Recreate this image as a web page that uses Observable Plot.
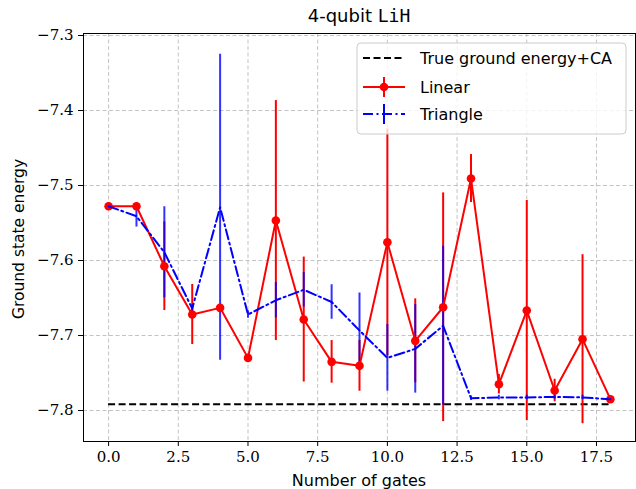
<!DOCTYPE html>
<html><head><meta charset="utf-8">
<script src="https://cdn.jsdelivr.net/npm/d3@7"></script>
<script src="https://cdn.jsdelivr.net/npm/@observablehq/plot@0.6"></script>
<style>body{margin:0;background:#fff}</style>
</head><body><div id="chart"></div>
<script>
const gates = [0,1,2,3,4,5,6,7,8,9,10,11,12,13,14,15,16,17,18];
const linearEnergy = [-7.5276,-7.5276,-7.6076,-7.672,-7.6631,-7.7298,-7.5467,-7.6787,-7.7351,-7.7404,-7.5756,-7.7071,-7.6623,-7.4907,-7.7649,-7.6667,-7.7733,-7.7049,-7.7849];
const linearErr = [0.004,0.004,0.059,0.04,0.004,0.004,0.16,0.0833,0.0284,0.0339,0.151,0.056,0.1525,0.032,0.013,0.1467,0.015,0.1127,0.003];
const triangleEnergy = [-7.5276,-7.541,-7.589,-7.664,-7.529,-7.672,-7.653,-7.639,-7.6553,-7.6933,-7.7298,-7.7178,-7.687,-7.7836,-7.7827,-7.7825,-7.7818,-7.7825,-7.785];
const triangleErr = [0.003,0.0144,0.0607,0.005,0.204,0.005,0.0236,0.023,0.023,0.05,0.0444,0.059,0.106,0.003,0.003,0.003,0.003,0.003,0.003];
const trueEnergy = -7.7916;
const xTicks = [0,2.5,5,7.5,10,12.5,15,17.5];
const yTicks = [-7.3,-7.4,-7.5,-7.6,-7.7,-7.8];
const titleMain = "4-qubit ";
const titleMono = "LiH";
const xLabel = "Number of gates";
const yLabel = "Ground state energy";
const legendLabels = ["True ground energy+CA","Linear","Triangle"];

const linear = gates.map((g,i)=>({g, e: linearEnergy[i], err: linearErr[i]}));
const triangle = gates.map((g,i)=>({g, e: triangleEnergy[i], err: triangleErr[i]}));
const fmt = d => (d < 0 ? "\u2212" : "") + Math.abs(d).toFixed(1);
const gridStyle = {stroke:"#b0b0b0", strokeOpacity:0.75, strokeDasharray:"4,2.5", strokeWidth:1};

const W = 636, H = 489, mL = 83, mR = 1, mT = 33, mB = 48;
const chart = Plot.plot({
  width: W, height: H,
  marginLeft: mL, marginRight: mR, marginTop: mT, marginBottom: mB,
  style: {fontFamily: "DejaVu Serif", fontSize: "15px", color: "black", background: "white"},
  x: {domain: [-0.9, 18.9], ticks: xTicks, tickFormat: fmt, tickSize: 5, tickPadding: 5, label: null},
  y: {domain: [-7.8413, -7.2973], ticks: yTicks, tickFormat: fmt, tickSize: 5, tickPadding: 5, label: null},
  marks: [
    Plot.ruleX(xTicks, gridStyle),
    Plot.ruleY(yTicks, gridStyle),
    Plot.ruleY([trueEnergy], {x1: 0, x2: 18, stroke: "black", strokeWidth: 2, strokeDasharray: "7,3.5"}),
    Plot.ruleX(linear, {x: "g", y1: d => d.e - d.err, y2: d => d.e + d.err, stroke: "#ff0000", strokeWidth: 2}),
    Plot.ruleX(triangle, {x: "g", y1: d => d.e - d.err, y2: d => d.e + d.err, stroke: "#0000ff", strokeOpacity: 0.8, strokeWidth: 2}),
    Plot.line(linear, {x: "g", y: "e", stroke: "#ff0000", strokeWidth: 2}),
    Plot.dot(linear, {x: "g", y: "e", r: 4.3, fill: "#ff0000", stroke: "none"}),
    Plot.line(triangle, {x: "g", y: "e", stroke: "#0000ff", strokeWidth: 2, strokeDasharray: "10,3.5,2,3.5"}),
    Plot.frame({stroke: "black", strokeWidth: 1})
  ]
});
document.getElementById("chart").appendChild(chart);

const svg = d3.select(chart);
const cx = (mL + (W - mR)) / 2;
const t = svg.append("text").attr("x", cx).attr("y", 22).attr("text-anchor", "middle")
  .attr("font-size", 18).attr("fill", "black");
t.append("tspan").attr("font-family", "DejaVu Sans").text(titleMain);
t.append("tspan").attr("font-family", "DejaVu Sans Mono").text(titleMono);

svg.append("text").attr("x", cx).attr("y", 486).attr("text-anchor", "middle")
  .attr("font-family", "DejaVu Sans").attr("font-size", 16).attr("fill", "black").text(xLabel);
svg.append("text").attr("transform", "translate(24,239) rotate(-90)").attr("text-anchor", "middle")
  .attr("font-family", "DejaVu Sans").attr("font-size", 15.5).attr("fill", "black").text(yLabel);

const lg = svg.append("g");
lg.append("rect").attr("x", 357).attr("y", 43).attr("width", 269).attr("height", 91).attr("rx", 4)
  .attr("fill", "white").attr("fill-opacity", 0.8).attr("stroke", "#cccccc");
const rows = [58, 87, 114];
lg.append("line").attr("x1", 363).attr("x2", 405).attr("y1", rows[0]).attr("y2", rows[0])
  .attr("stroke", "black").attr("stroke-width", 2).attr("stroke-dasharray", "7,3.5");
lg.append("line").attr("x1", 384).attr("x2", 384).attr("y1", rows[1]-10).attr("y2", rows[1]+10)
  .attr("stroke", "#ff0000").attr("stroke-width", 2);
lg.append("line").attr("x1", 363).attr("x2", 405).attr("y1", rows[1]).attr("y2", rows[1])
  .attr("stroke", "#ff0000").attr("stroke-width", 2);
lg.append("circle").attr("cx", 384).attr("cy", rows[1]).attr("r", 4.3).attr("fill", "#ff0000");
lg.append("line").attr("x1", 384).attr("x2", 384).attr("y1", rows[2]-10).attr("y2", rows[2]+10)
  .attr("stroke", "#0000ff").attr("stroke-width", 2);
lg.append("line").attr("x1", 363).attr("x2", 405).attr("y1", rows[2]).attr("y2", rows[2])
  .attr("stroke", "#0000ff").attr("stroke-width", 2).attr("stroke-dasharray", "10,3.5,2,3.5");
legendLabels.forEach((s, i) => {
  lg.append("text").attr("x", 420).attr("y", rows[i]).attr("dy", "0.35em").attr("text-anchor", "start")
    .attr("font-family", "DejaVu Sans").attr("font-size", 16).attr("fill", "black").text(s);
});
</script></body></html>
